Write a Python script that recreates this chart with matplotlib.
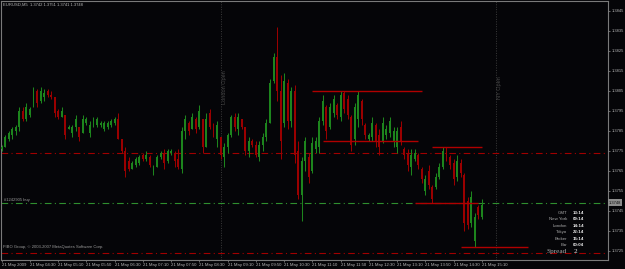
import matplotlib
matplotlib.use('Agg')
import matplotlib.pyplot as plt
import numpy as np
import pandas as pd

# ---------------- data ----------------
symbol = 'EURUSD,M5'
start_time = '2009-05-21 03:50'

opens = [1.3776, 1.3777, 1.3781, 1.3783, 1.3785, 1.3787, 1.3795, 1.3791, 1.3793, 1.3797,
         1.3805, 1.3800, 1.3802, 1.3805, 1.3803, 1.3802, 1.3795, 1.3792, 1.3793, 1.3786,
         1.3784, 1.3787, 1.3787, 1.3784, 1.3789, 1.3784, 1.3788, 1.3788, 1.3788, 1.3786,
         1.3787, 1.3788, 1.3789, 1.3791, 1.3781, 1.3775, 1.3770, 1.3766, 1.3768, 1.3769,
         1.3773, 1.3771, 1.3772, 1.3764, 1.3767, 1.3772, 1.3774, 1.3770, 1.3774, 1.3774,
         1.3771, 1.3766, 1.3785, 1.3789, 1.3786, 1.3791, 1.3787, 1.3791, 1.3777, 1.3794,
         1.3787, 1.3781, 1.3782, 1.3772, 1.3777, 1.3783, 1.3792, 1.3786, 1.3791, 1.3787,
         1.3775, 1.3780, 1.3778, 1.3772, 1.3778, 1.3782, 1.3789, 1.3810, 1.3822, 1.3805,
         1.3789, 1.3809, 1.3790, 1.3805, 1.3775, 1.3753, 1.3770, 1.3772, 1.3765, 1.3776,
         1.3777, 1.3790, 1.3797, 1.3787, 1.3794, 1.3798, 1.3792, 1.3804, 1.3801, 1.3792,
         1.3781, 1.3791, 1.3800, 1.3788, 1.3781, 1.3782, 1.3788, 1.3783, 1.3780, 1.3783,
         1.3784, 1.3780, 1.3777, 1.3787, 1.3776, 1.3774, 1.3767, 1.3771, 1.3773, 1.3766,
         1.3755, 1.3765, 1.3757, 1.3757, 1.3762, 1.3767, 1.3775, 1.3772, 1.3769, 1.3762,
         1.3769, 1.3763, 1.3750, 1.3739, 1.3730, 1.3747, 1.3742]

highs = [1.3778, 1.3783, 1.3785, 1.3787, 1.3788, 1.3797, 1.3797, 1.3799, 1.3797, 1.3807,
         1.3806, 1.3807, 1.3806, 1.3806, 1.3805, 1.3802, 1.3796, 1.3797, 1.3793, 1.3788,
         1.3788, 1.3793, 1.3787, 1.3793, 1.3792, 1.3790, 1.3792, 1.3792, 1.3790, 1.3790,
         1.3790, 1.3791, 1.3792, 1.3794, 1.3781, 1.3777, 1.3772, 1.3770, 1.3772, 1.3773,
         1.3774, 1.3775, 1.3773, 1.3768, 1.3773, 1.3775, 1.3776, 1.3776, 1.3776, 1.3775,
         1.3776, 1.3787, 1.3793, 1.3790, 1.3794, 1.3792, 1.3798, 1.3791, 1.3794, 1.3796,
         1.3789, 1.3790, 1.3782, 1.3779, 1.3784, 1.3793, 1.3794, 1.3794, 1.3791, 1.3787,
         1.3782, 1.3781, 1.3780, 1.3780, 1.3784, 1.3791, 1.3811, 1.3824, 1.3837, 1.3813,
         1.3814, 1.3811, 1.3807, 1.3808, 1.3780, 1.3772, 1.3782, 1.3774, 1.3782, 1.3782,
         1.3792, 1.3803, 1.3798, 1.3799, 1.3803, 1.3799, 1.3805, 1.3805, 1.3803, 1.3793,
         1.3799, 1.3805, 1.3801, 1.3789, 1.3784, 1.3792, 1.3789, 1.3786, 1.3792, 1.3788,
         1.3792, 1.3787, 1.3787, 1.3790, 1.3777, 1.3776, 1.3776, 1.3776, 1.3774, 1.3767,
         1.3763, 1.3768, 1.3758, 1.3764, 1.3769, 1.3777, 1.3777, 1.3773, 1.3771, 1.3773,
         1.3771, 1.3764, 1.3752, 1.3755, 1.3744, 1.3748, 1.3751]

lows = [1.3775, 1.3777, 1.3780, 1.3781, 1.3783, 1.3785, 1.3790, 1.3790, 1.3792, 1.3797,
        1.3797, 1.3799, 1.3800, 1.3802, 1.3801, 1.3792, 1.3791, 1.3792, 1.3781, 1.3786,
        1.3782, 1.3785, 1.3780, 1.3784, 1.3788, 1.3782, 1.3787, 1.3787, 1.3787, 1.3785,
        1.3786, 1.3787, 1.3788, 1.3781, 1.3774, 1.3762, 1.3765, 1.3766, 1.3767, 1.3768,
        1.3770, 1.3770, 1.3767, 1.3763, 1.3767, 1.3771, 1.3766, 1.3769, 1.3773, 1.3767,
        1.3766, 1.3764, 1.3781, 1.3783, 1.3786, 1.3784, 1.3786, 1.3774, 1.3777, 1.3786,
        1.3782, 1.3777, 1.3771, 1.3767, 1.3774, 1.3782, 1.3785, 1.3783, 1.3786, 1.3773,
        1.3772, 1.3777, 1.3772, 1.3770, 1.3775, 1.3780, 1.3789, 1.3809, 1.3800, 1.3771,
        1.3787, 1.3786, 1.3787, 1.3769, 1.3751, 1.3740, 1.3765, 1.3759, 1.3764, 1.3774,
        1.3774, 1.3788, 1.3781, 1.3786, 1.3792, 1.3791, 1.3790, 1.3794, 1.3791, 1.3775,
        1.3778, 1.3787, 1.3788, 1.3781, 1.3780, 1.3780, 1.3777, 1.3773, 1.3779, 1.3781,
        1.3782, 1.3777, 1.3774, 1.3778, 1.3771, 1.3765, 1.3763, 1.3770, 1.3766, 1.3759,
        1.3753, 1.3756, 1.3749, 1.3756, 1.3761, 1.3766, 1.3770, 1.3766, 1.3758, 1.3760,
        1.3762, 1.3735, 1.3736, 1.3737, 1.3727, 1.3741, 1.3741]

closes = [1.3777, 1.3782, 1.3784, 1.3786, 1.3787, 1.3795, 1.3791, 1.3797, 1.3796, 1.3805,
          1.3799, 1.3805, 1.3804, 1.3803, 1.3802, 1.3794, 1.3792, 1.3795, 1.3783, 1.3787,
          1.3787, 1.3791, 1.3782, 1.3791, 1.3791, 1.3788, 1.3790, 1.3791, 1.3789, 1.3789,
          1.3789, 1.3790, 1.3791, 1.3781, 1.3775, 1.3765, 1.3766, 1.3769, 1.3771, 1.3772,
          1.3771, 1.3773, 1.3768, 1.3767, 1.3772, 1.3774, 1.3769, 1.3775, 1.3775, 1.3770,
          1.3767, 1.3785, 1.3791, 1.3785, 1.3792, 1.3786, 1.3795, 1.3777, 1.3791, 1.3787,
          1.3783, 1.3788, 1.3773, 1.3777, 1.3783, 1.3792, 1.3787, 1.3792, 1.3787, 1.3775,
          1.3780, 1.3778, 1.3773, 1.3778, 1.3782, 1.3789, 1.3809, 1.3822, 1.3805, 1.3780,
          1.3810, 1.3790, 1.3805, 1.3773, 1.3753, 1.3770, 1.3780, 1.3762, 1.3779, 1.3780,
          1.3790, 1.3800, 1.3785, 1.3797, 1.3801, 1.3793, 1.3803, 1.3796, 1.3793, 1.3778,
          1.3797, 1.3803, 1.3791, 1.3783, 1.3783, 1.3789, 1.3780, 1.3777, 1.3789, 1.3786,
          1.3790, 1.3785, 1.3785, 1.3780, 1.3773, 1.3768, 1.3773, 1.3774, 1.3768, 1.3761,
          1.3761, 1.3758, 1.3751, 1.3762, 1.3767, 1.3775, 1.3772, 1.3768, 1.3761, 1.3770,
          1.3764, 1.3739, 1.3738, 1.3752, 1.3742, 1.3743, 1.3748]

price_ticks = [1.3725, 1.3735, 1.3745, 1.3755, 1.3765, 1.3775, 1.3785,
               1.3795, 1.3805, 1.3815, 1.3825, 1.3835, 1.3845]

order_label = '#1242905 buy'
order_price = 1.3749
tp_price = 1.3774
sl_price = 1.3724

# user drawn horizontal segments: (price, start time, end time)
seg_prices = [1.3805, 1.3780, 1.3777, 1.3749, 1.3727]
seg_starts = ['2009-05-21 11:10', '2009-05-21 11:25', '2009-05-21 14:00',
              '2009-05-21 13:35', '2009-05-21 14:40']
seg_ends = ['2009-05-21 13:45', '2009-05-21 13:40', '2009-05-21 15:10',
            '2009-05-21 15:05', '2009-05-21 16:15']

vline_labels = ['London Open', 'NY Open']
vline_times = ['2009-05-21 09:00', '2009-05-21 15:30']

info_labels = ['GMT', 'New York', 'London', 'Tokyo', 'Broker', 'Bar']
info_values = ['13:14', '09:14', '14:14', '22:14', '15:14', '00:04']
spread_value = '2'
copyright_text = 'FIBO Group, \u00a9 2003-2007 MetaQuotes Software Corp.'

# ---------------- drawing ----------------
W, H = 625, 269
BG = '#050508'
GREEN = '#1d851d'
RED = '#9a0000'
FONT = 'Liberation Sans'

o = np.array(opens); h = np.array(highs); l = np.array(lows); c = np.array(closes)
n = len(o)
t0 = pd.Timestamp(start_time)
times = pd.date_range(t0, periods=n, freq='5min')


def bar_of(ts):
    return (pd.Timestamp(ts) - t0) / pd.Timedelta('5min')


fig = plt.figure(figsize=(W / 100, H / 100), dpi=100, facecolor=BG)
ax = fig.add_axes([1 / W, 9 / H, 607 / W, 259 / H], facecolor=BG)

x = np.arange(n)
up = c >= o
cols = np.where(up, GREEN, RED)
ax.vlines(x, l, h, colors=cols, lw=0.75, zorder=3)
body_h = np.abs(c - o)
body_h = np.where(body_h < 0.00005, 0.00005, body_h)
ax.bar(x, body_h, bottom=np.minimum(o, c), width=0.55, color=cols, lw=0, zorder=3)

ax.set_xlim(-0.2, 171.76)
ax.set_ylim(1.37205, 1.3850)

# order / tp / sl lines
ax.axhline(order_price, color='#2f8f2f', lw=0.8, ls=(0, (6, 3, 1, 3)), zorder=2)
ax.axhline(tp_price, color='#a00000', lw=0.8, ls=(0, (6, 3, 1, 3)), zorder=2)
ax.axhline(sl_price, color='#a00000', lw=0.8, ls=(0, (6, 3, 1, 3)), zorder=2)
ax.text(0.6, order_price + 0.00003, order_label, color='#9a9a9a', fontsize=3.0,
        family=FONT, va='bottom', ha='left')

# user segments
for p, s, e in zip(seg_prices, seg_starts, seg_ends):
    ax.hlines(p, bar_of(s), bar_of(e), color='#b00000', lw=1.0, zorder=4)

# vertical session lines
for lab, ts in zip(vline_labels, vline_times):
    xv = bar_of(ts)
    ax.axvline(xv, color='#3a3a3a', lw=0.7, ls=(0, (1, 1.5)), zorder=1)
    ax.text(xv + 0.4, 1.38067, lab, rotation=90, color='#4a4a4a', fontsize=4.0,
            family=FONT, va='center', ha='left')

# axes styling
for sp in ax.spines.values():
    sp.set_color('#7a7a7a')
    sp.set_linewidth(0.8)

ax.yaxis.tick_right()
ax.set_yticks(price_ticks)
ax.set_yticklabels([f'{p:.4f}' for p in price_ticks])
ax.tick_params(axis='y', colors='#7a7a7a', labelcolor='#b8b8b8', labelsize=2.9,
               length=1.5, width=0.6, pad=1.2)

xt = list(range(0, n, 8))
xl = []
for i in xt:
    ts = times[i]
    if i == 0:
        xl.append(ts.strftime('%d %b %Y'))
    else:
        xl.append(ts.strftime('%d %b %H:%M'))
ax.set_xticks(xt)
ax.set_xticklabels(xl)
ax.tick_params(axis='x', colors='#7a7a7a', labelcolor='#b8b8b8', labelsize=3.1,
               length=1.5, width=0.6, pad=0.6)
for lbl in ax.get_xticklabels() + ax.get_yticklabels():
    lbl.set_family(FONT)
for lbl in ax.get_xticklabels():
    lbl.set_ha('left')

# price box on the right scale
fig.text(609 / W, 1 - 202.5 / H, f'{c[-1]:.4f}', fontsize=2.9, family=FONT,
         color='#101010', va='center', ha='left',
         bbox=dict(boxstyle='square,pad=0.25', fc='#8c8c8c', ec='none'))


def ftext(xp, yp, s, **kw):
    fig.text(xp / W, 1 - yp / H, s, **kw)


ftext(3, 5, f'{symbol}  {o[-1]:.4f} {h[-1]:.4f} {l[-1]:.4f} {c[-1]:.4f}',
      fontsize=3.0, family=FONT, color='#b8b8b8', va='center', ha='left')
ftext(3, 247, copyright_text, fontsize=3.0, family=FONT, color='#9a9a9a',
      va='center', ha='left')

row_y = [212.7, 219.2, 225.7, 232.2, 238.7, 245.2]
for lab, val, yy in zip(info_labels, info_values, row_y):
    ftext(567, yy, lab, fontsize=3.2, family=FONT, color='#a8a8a8', va='center', ha='right')
    ftext(573, yy, val, fontsize=3.2, family=FONT, color='#e8e8e8', va='center',
          ha='left', fontweight='bold')
ftext(567, 251.7, 'Spread', fontsize=5.2, family='Liberation Serif', color='#a8a8a8',
      va='center', ha='right')
ftext(574, 251.7, spread_value, fontsize=5.2, family='Liberation Serif', color='#e8e8e8',
      va='center', ha='left')

fig.savefig('out.png', dpi=100, facecolor=BG)
